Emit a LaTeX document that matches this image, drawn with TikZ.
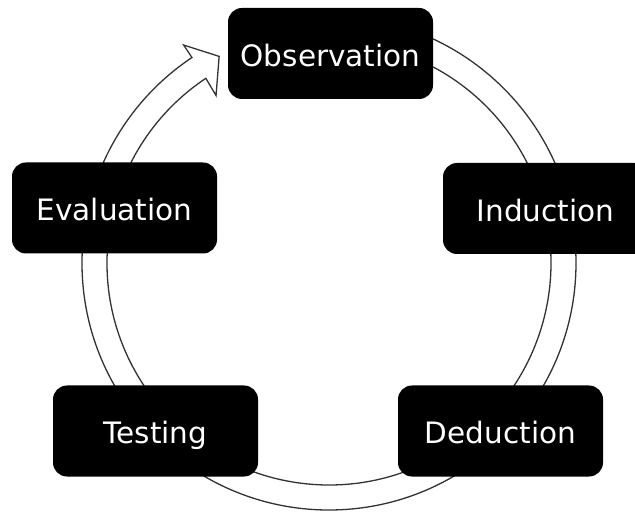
\documentclass[tikz,border=0pt]{standalone}
\usepackage{fontspec}
\setmainfont{DejaVu Sans}
\tikzset{
  stage/.style={fill=black, text=white, rounded corners=14pt,
    minimum width=205pt, minimum height=91pt, inner sep=0pt,
    text height=25.5pt, text depth=0pt,
    font=\fontsize{29.5}{35}\selectfont},
  ring/.style={draw=black!80, fill=white, line width=1.3pt, line join=miter}
}
\begin{document}
\begin{tikzpicture}[x=1pt,y=1pt]
\clip (0,0) rectangle (635,512);
% hollow arrow going round the cycle
\begin{scope}[shift={(329,249)}]
\draw[ring] (90:247) arc[start angle=90, end angle=-236.3, radius=247]
  -- (123.7:262) -- (118:234) -- (124:202) -- (123.7:222)
  arc[start angle=-236.3, end angle=90, radius=222] -- cycle;
\end{scope}
% the stages
\node[stage] (obs) at (330.5,458.5) {Observation};
\node[stage] (ind) at (545.5,303.5) {Induction};
\node[stage] (ded) at (500.5,81) {Deduction};
\node[stage] (tst) at (155.5,81) {Testing};
\node[stage] (evl) at (114.5,304) {Evaluation};
\end{tikzpicture}
\end{document}
